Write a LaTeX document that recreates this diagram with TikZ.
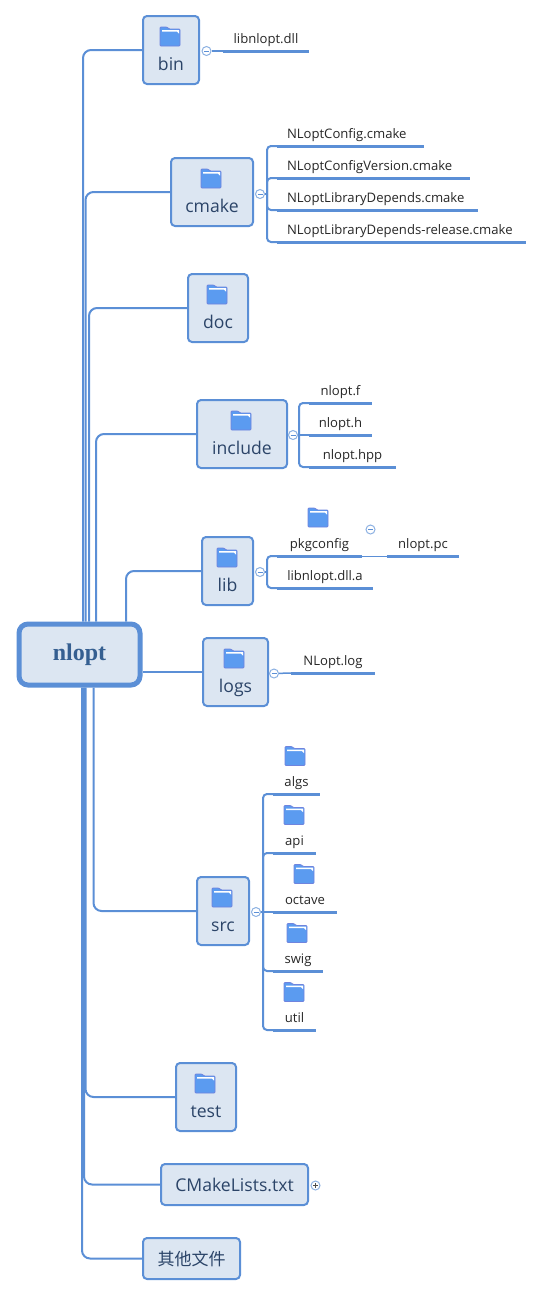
\documentclass[tikz,border=0pt]{standalone}
\usepackage{fontspec}
\setmainfont{Open Sans}
\newfontfamily\rootfont{Liberation Serif}
\newfontfamily\cjk{Noto Sans CJK SC}
\usetikzlibrary{positioning,calc}
\definecolor{linecol}{HTML}{5B8FD6}
\definecolor{boxfill}{HTML}{DCE6F2}
\definecolor{boxtext}{HTML}{2B4468}
\definecolor{rootcol}{HTML}{355F91}
\definecolor{foldercol}{HTML}{5B9BF0}
\definecolor{folderedge}{HTML}{6F84DE}
\tikzset{
 box/.style={draw=linecol,line width=2pt,fill=boxfill,rounded corners=4pt,align=center,inner sep=0pt,
             font=\fontsize{17.6}{20}\selectfont,text=boxtext},
 dirbox/.style={box,minimum height=68pt,text height=54pt,text depth=14pt},
 filebox/.style={box,minimum height=41pt},
 rootbox/.style={box,line width=5pt,rounded corners=9pt,minimum width=121pt,minimum height=61pt,
                 font=\rootfont\fontsize{24}{26}\bfseries\selectfont,text=rootcol},
 leaf/.style={anchor=south,inner sep=0pt,outer sep=0pt,text height=10pt,text depth=9pt,
              font=\fontsize{13.1}{15}\selectfont,text=black!85},
 leafl/.style={leaf,inner xsep=10pt,text width=#1-20pt,align=left},
 under/.style={draw=linecol,line width=3pt},
 branch/.style={draw=linecol,line width=2pt,rounded corners=8pt},
 twig/.style={draw=linecol,line width=2pt,rounded corners=4pt},
 stub/.style={draw=linecol,line width=1.5pt},
 toggle/.style={circle,draw=linecol!70,fill=white,line width=1pt,minimum size=9pt,inner sep=0pt},
 togminus/.style={toggle,path picture={\draw[linecol,line width=.8pt]
   ([xshift=-2.5pt]path picture bounding box.center) -- ([xshift=2.5pt]path picture bounding box.center);}},
 togplus/.style={toggle,path picture={\draw[black!70,line width=.8pt]
   ([xshift=-2.5pt]path picture bounding box.center) -- ([xshift=2.5pt]path picture bounding box.center)
   ([yshift=-2.5pt]path picture bounding box.center) -- ([yshift=2.5pt]path picture bounding box.center);}},
 folder/.pic={
   \fill[draw=folderedge,line width=.8pt,fill=foldercol,rounded corners=1pt]
     (-10,9.5) -- (-10,-9.5) -- (-3,-9.5) -- (-1,-7.5) -- (10,-7.5) -- (10,9.5) -- cycle;
   \fill[white] (-8,-6.5) -- (9,-6.5) -- (9,-3) -- (7,-5) -- (-8,-5) -- cycle;
 },
}
\begin{document}
\begin{tikzpicture}[x=1pt,y=-1pt]
\useasboundingbox (0,0) rectangle (544,1296);
\node[rootbox] (root) at (79.5,654.5) {nlopt};
\node[dirbox,minimum width=56pt] (bin) at (171,50) {bin};
\node[dirbox,minimum width=82pt] (cmake) at (212,192) {cmake};
\node[dirbox,minimum width=60pt] (doc) at (218,308) {doc};
\node[dirbox,minimum width=90pt] (include) at (242,434) {include};
\node[dirbox,minimum width=51pt] (lib) at (227.5,571) {lib};
\node[dirbox,minimum width=65pt] (logs) at (235.5,672) {logs};
\node[dirbox,minimum width=52pt] (src) at (223,911) {src};
\node[dirbox,minimum width=60pt] (test) at (206,1097) {test};
\node[filebox,minimum width=147pt] (cmakelists) at (234.5,1184.5) {CMakeLists.txt};
\node[filebox,minimum width=97pt,font=\cjk\fontsize{17}{20}\selectfont] (other) at (191.5,1258.5) {其他文件};

\pic at (170,36.5) {folder};
\pic at (211,178.5) {folder};
\pic at (217,294.5) {folder};
\pic at (241,420.5) {folder};
\pic at (227,557.5) {folder};
\pic at (234,658.5) {folder};
\pic at (222,897.5) {folder};
\pic at (205,1083.5) {folder};
\pic at (318,517.5) {folder};
\pic at (295,756) {folder};
\pic at (294,815) {folder};
\pic at (304,874) {folder};
\pic at (297,933) {folder};
\pic at (294,992) {folder};

\draw[branch] (bin.west) -| ([xshift=66.5pt]root.north west);
\draw[branch] (cmake.west) -| ([xshift=69pt]root.north west);
\draw[branch] (doc.west) -| ([xshift=72.5pt]root.north west);
\draw[branch] (include.west) -| ([xshift=79.5pt]root.north west);
\draw[branch] (lib.west) -| ([xshift=109.5pt]root.north west);
\draw[branch] (logs.west) -- (logs.west -| root.east);
\draw[branch] (src.west) -| ([xshift=77pt]root.south west);
\draw[branch] (test.west) -| ([xshift=69pt]root.south west);
\draw[branch] (cmakelists.west) -| ([xshift=67.5pt]root.south west);
\draw[branch] (other.west) -| ([xshift=65.5pt]root.south west);

\node[leaf,minimum width=86pt] (bindll) at (266,52.5) {libnlopt.dll};
\node[leafl=147pt] (cfg) at (350.5,147.5) {NLoptConfig.cmake};
\node[leafl=193pt] (cfgver) at (373.5,179.5) {NLoptConfigVersion.cmake};
\node[leafl=201pt] (libdep) at (377.5,211.5) {NLoptLibraryDepends.cmake};
\node[leafl=249pt] (libdeprel) at (401.5,243.5) {NLoptLibraryDepends-release.cmake};
\node[leaf,minimum width=63pt] (nloptf) at (340.5,404.5) {nlopt.f};
\node[leaf,minimum width=63pt] (nlopth) at (340.5,436.5) {nlopt.h};
\node[leaf,minimum width=87pt] (nlopthpp) at (352.5,468.5) {nlopt.hpp};
\node[leaf,minimum width=85pt] (pkgconfig) at (319.5,557.5) {pkgconfig};
\node[leaf,minimum width=72pt] (nloptpc) at (423,557.5) {nlopt.pc};
\node[leaf,minimum width=96pt] (dlla) at (325,589.5) {libnlopt.dll.a};
\node[leaf,minimum width=84pt] (logfile) at (333,674.5) {NLopt.log};
\node[leaf,minimum width=47pt] (algs) at (296.5,795.5) {algs};
\node[leaf,minimum width=43pt] (api) at (294.5,854.5) {api};
\node[leaf,minimum width=64pt] (octave) at (305,913.5) {octave};
\node[leaf,minimum width=50pt] (swig) at (298,972.5) {swig};
\node[leaf,minimum width=43pt] (util) at (294.5,1031.5) {util};

\draw[under] ([yshift=1.5pt]bindll.south west) -- ([yshift=1.5pt]bindll.south east);
\draw[under] ([yshift=1.5pt]cfg.south west) -- ([yshift=1.5pt]cfg.south east);
\draw[under] ([yshift=1.5pt]cfgver.south west) -- ([yshift=1.5pt]cfgver.south east);
\draw[under] ([yshift=1.5pt]libdep.south west) -- ([yshift=1.5pt]libdep.south east);
\draw[under] ([yshift=1.5pt]libdeprel.south west) -- ([yshift=1.5pt]libdeprel.south east);
\draw[under] ([yshift=1.5pt]nloptf.south west) -- ([yshift=1.5pt]nloptf.south east);
\draw[under] ([yshift=1.5pt]nlopth.south west) -- ([yshift=1.5pt]nlopth.south east);
\draw[under] ([yshift=1.5pt]nlopthpp.south west) -- ([yshift=1.5pt]nlopthpp.south east);
\draw[under] ([yshift=1.5pt]pkgconfig.south west) -- ([yshift=1.5pt]pkgconfig.south east);
\draw[under] ([yshift=1.5pt]nloptpc.south west) -- ([yshift=1.5pt]nloptpc.south east);
\draw[under] ([yshift=1.5pt]dlla.south west) -- ([yshift=1.5pt]dlla.south east);
\draw[under] ([yshift=1.5pt]logfile.south west) -- ([yshift=1.5pt]logfile.south east);
\draw[under] ([yshift=1.5pt]algs.south west) -- ([yshift=1.5pt]algs.south east);
\draw[under] ([yshift=1.5pt]api.south west) -- ([yshift=1.5pt]api.south east);
\draw[under] ([yshift=1.5pt]octave.south west) -- ([yshift=1.5pt]octave.south east);
\draw[under] ([yshift=1.5pt]swig.south west) -- ([yshift=1.5pt]swig.south east);
\draw[under] ([yshift=1.5pt]util.south west) -- ([yshift=1.5pt]util.south east);

\coordinate (cmakebus) at (267,194);
\coordinate (includebus) at (299,435);
\coordinate (libbus) at (267,572);
\coordinate (srcbus) at (263,912);

\draw[twig] ([yshift=1.5pt]cfg.south west) -| (cmakebus);
\draw[twig] ([yshift=1.5pt]cfgver.south west) -| (cmakebus);
\draw[twig] ([yshift=1.5pt]libdep.south west) -| (cmakebus);
\draw[twig] ([yshift=1.5pt]libdeprel.south west) -| (cmakebus);
\draw[twig] ([yshift=1.5pt]nloptf.south west) -| (includebus);
\draw[twig] ([yshift=1.5pt]nlopth.south west) -- (includebus);
\draw[twig] ([yshift=1.5pt]nlopthpp.south west) -| (includebus);
\draw[twig] ([yshift=1.5pt]pkgconfig.south west) -| (libbus);
\draw[twig] ([yshift=1.5pt]dlla.south west) -| (libbus);
\draw[twig] ([yshift=1.5pt]algs.south west) -| (srcbus);
\draw[twig] ([yshift=1.5pt]api.south west) -| (srcbus);
\draw[twig] ([yshift=1.5pt]octave.south west) -- (srcbus);
\draw[twig] ([yshift=1.5pt]swig.south west) -| (srcbus);
\draw[twig] ([yshift=1.5pt]util.south west) -| (srcbus);

\node[togminus] (bintog) at (206.5,51) {};
\node[togminus] (cmaketog) at (260,194) {};
\node[togminus] (includetog) at (293,435) {};
\node[togminus] (libtog) at (260,572) {};
\node[togminus] (pkgtog) at (370.5,529.5) {};
\node[togminus] (logstog) at (274,673.5) {};
\node[togminus] (srctog) at (256,912) {};
\node[togplus] (cmakeliststog) at (315.5,1185.5) {};

\draw[stub] (bintog) -- ([yshift=1.5pt]bindll.south west);
\draw[stub] (cmaketog) -- (cmakebus);
\draw[stub] (includetog) -- (includebus);
\draw[stub] (libtog) -- (libbus);
\draw[stub] (logstog) -- ([yshift=1.5pt]logfile.south west);
\draw[stub] (srctog) -- (srcbus);
\draw[stub,line width=1pt] ([yshift=1pt]pkgconfig.south east) -- ([yshift=1pt]nloptpc.south west);
\end{tikzpicture}
\end{document}
